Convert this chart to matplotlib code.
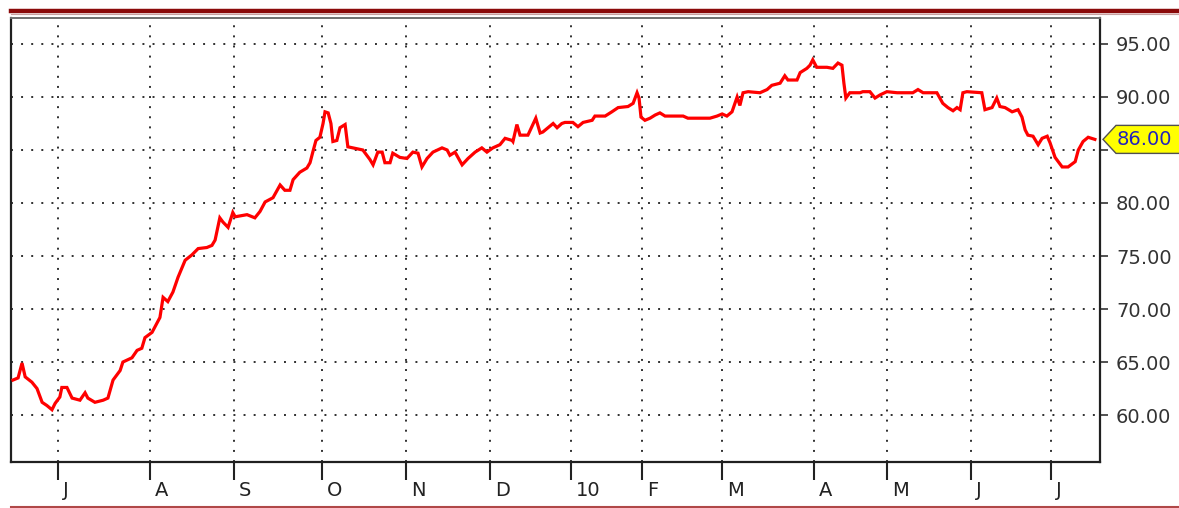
import matplotlib
matplotlib.use("Agg")
import matplotlib.pyplot as plt
from matplotlib.patches import Polygon
from matplotlib.lines import Line2D
import matplotlib.transforms as mtransforms

# trading-day index and price
day = [0.5, 1.8, 2.8, 3.6, 5.3, 6.6, 7.9, 9.1, 10.4, 11.2, 12.4, 12.9, 14.2, 15.5, 17.5, 18.8, 19.5,
       21.3, 23.4, 24.6, 25.9, 27.7, 28.4, 30.7, 32.0, 33.2, 34.0, 35.8, 37.1, 37.8, 38.6, 39.8,
       41.1, 42.4, 44.2, 45.9, 47.5, 49.7, 51.0, 51.8, 53.0, 53.8, 55.1, 56.3, 56.9, 59.9, 61.9,
       63.2, 64.5, 66.5, 68.3, 69.5, 70.8, 71.6, 73.3, 75.1, 75.9, 76.6, 77.4, 78.4, 79.2, 79.7,
       80.5, 81.2, 81.7, 82.7, 83.5, 84.8, 85.5, 86.8, 89.3, 91.1, 91.9, 93.1, 94.2, 94.9, 96.2,
       96.9, 98.7, 100.5, 102.0, 103.3, 104.3, 105.6, 107.1, 109.4, 110.7, 111.4, 112.7, 114.5,
       116.0, 117.8, 119.5, 120.8, 122.3, 124.1, 125.4, 127.2, 127.4, 128.4, 129.2, 131.2, 132.2,
       133.2, 134.3, 135.0, 137.6, 138.6, 139.8, 140.6, 142.6, 143.9, 145.2, 147.5, 148.2, 150.8,
       152.5, 154.1, 156.6, 157.9, 158.9, 159.4, 159.9, 160.9, 162.2, 163.5, 164.7, 166.0, 170.6,
       171.8, 177.4, 179.2, 180.5, 181.7, 183.0, 184.3, 185.0, 185.8, 187.1, 190.1, 191.9, 193.1,
       195.2, 196.4, 197.2, 199.5, 200.3, 202.0, 202.8, 203.5, 204.5, 207.1, 208.6, 209.9, 210.9,
       211.4, 211.9, 212.9, 215.5, 216.2, 218.0, 219.3, 220.6, 222.3, 224.9, 228.9, 230.2, 231.5,
       235.0, 236.5, 237.8, 239.1, 240.1, 240.9, 241.6, 242.6, 246.4, 247.2, 249.0, 250.2, 251.0,
       252.3, 254.1, 255.6, 256.6, 257.4, 258.1, 259.4, 260.7, 261.7, 263.0, 263.7, 265.0, 266.8,
       268.3, 270.1, 270.9, 272.1, 273.4, 275.1]
price = [63.3, 63.5, 64.9, 63.6, 63.1, 62.5, 61.2, 60.9, 60.5, 61.1, 61.7, 62.6, 62.6, 61.6, 61.4, 62.1, 61.6,
         61.2, 61.4, 61.6, 63.3, 64.2, 65.0, 65.4, 66.1, 66.3, 67.3, 67.8, 68.7, 69.2, 71.1, 70.7,
         71.6, 73.0, 74.6, 75.1, 75.7, 75.8, 76.0, 76.5, 78.6, 78.2, 77.7, 79.1, 78.7, 78.9, 78.6,
         79.2, 80.1, 80.5, 81.7, 81.2, 81.2, 82.2, 82.9, 83.3, 83.8, 84.8, 85.9, 86.2, 87.5, 88.6,
         88.5, 87.5, 85.8, 85.9, 87.1, 87.4, 85.3, 85.2, 85.0, 84.1, 83.6, 84.8, 84.8, 83.8, 83.8,
         84.7, 84.3, 84.2, 84.8, 84.7, 83.4, 84.2, 84.8, 85.2, 85.0, 84.5, 84.8, 83.6,
         84.2, 84.8, 85.2, 84.8, 85.2, 85.5, 86.1, 85.9, 85.8, 87.4, 86.4, 86.4, 87.2,
         88.0, 86.6, 86.7, 87.5, 87.1, 87.5, 87.6, 87.6, 87.2, 87.6, 87.8, 88.2, 88.2,
         88.6, 89.0, 89.1, 89.4, 90.4, 89.9, 88.1, 87.8, 88.0, 88.3, 88.5, 88.2, 88.2,
         88.0, 88.0, 88.2, 88.4, 88.2, 88.6, 90.0, 89.2, 90.4, 90.5, 90.4, 90.7, 91.1,
         91.3, 92.0, 91.6, 91.6, 92.3, 92.7, 93.0, 93.5, 92.8, 92.8, 92.7, 93.2, 93.0,
         91.3, 89.9, 90.4, 90.4, 90.5, 90.5, 89.9, 90.2, 90.5, 90.4, 90.4, 90.7, 90.4,
         90.4, 89.4, 89.0, 88.7, 89.0, 88.8, 90.4, 90.5, 90.4, 88.8, 89.0, 89.9, 89.1,
         89.0, 88.6, 88.8, 88.1, 86.9, 86.4, 86.3, 85.5, 86.1, 86.3, 85.7, 84.3, 83.4,
         83.4, 83.9, 85.0, 85.8, 86.2, 86.0]

month_pos = [11.9, 35.3, 56.6, 78.9, 100.3, 121.6, 142.1, 160.2, 180.5, 203.8, 222.3, 243.7, 264.0]
month_labels = ["J", "A", "S", "O", "N", "D", "10", "F", "M", "A", "M", "J", "J"]
y_ticks = [60, 65, 70, 75, 80, 85, 90, 95]
y_labels = ["60.00", "65.00", "70.00", "75.00", "80.00", "", "90.00", "95.00"]
last_label = "86.00"

W, H = 1179, 508
fig = plt.figure(figsize=(W / 100, H / 100), dpi=100)
fig.patch.set_facecolor("white")
ax = fig.add_axes([11 / W, 1 - 462 / H, (1100 - 11) / W, (462 - 18) / H])

ax.plot(day, price, color="#ff0000", lw=2.3, solid_joinstyle="miter", zorder=3)
ax.set_xlim(0, 276.4)
ax.set_ylim(55.57, 97.45)

# grid
for xp in month_pos:
    ax.axvline(xp, color="#303030", lw=1.4, linestyle=(0, (1, 4.2)), zorder=1)
for yp in y_ticks:
    ax.axhline(yp, color="#303030", lw=1.4, linestyle=(0, (1, 4.2)), zorder=1)

# y axis on the right
ax.yaxis.tick_right()
ax.set_yticks(y_ticks)
ax.set_yticklabels(y_labels)
ax.tick_params(axis="y", which="both", length=6, width=1.2, color="#333333",
               pad=5.5, labelsize=14, labelcolor="#333333")

# x axis
ax.set_xticks(month_pos)
ax.set_xticklabels(month_labels)
ax.tick_params(axis="x", length=13, width=1.5, color="#222222", pad=0.5,
               labelsize=14, labelcolor="#222222")
shift = mtransforms.ScaledTranslation(5 / 100, 0, fig.dpi_scale_trans)
for lbl in ax.get_xticklabels():
    lbl.set_horizontalalignment("left")
    lbl.set_transform(lbl.get_transform() + shift)

for side in ["left", "bottom", "right"]:
    ax.spines[side].set_linewidth(1.6)
    ax.spines[side].set_color("#202020")
ax.spines["top"].set_linewidth(1.4)
ax.spines["top"].set_color("#707070")

# last-value marker
anchor = mtransforms.ScaledTranslation(1.0, price[-1], ax.get_yaxis_transform())
ptrans = fig.dpi_scale_trans + anchor
verts = [(0.03, 0.0), (0.16, -0.14), (0.82, -0.14), (0.82, 0.14), (0.16, 0.14)]
poly = Polygon(verts, closed=True, facecolor="#ffff00", edgecolor="#505050", lw=1.0,
               transform=ptrans, clip_on=False, zorder=5)
ax.add_artist(poly)
ax.text(0.17, 0.0, last_label, transform=ptrans, ha="left", va="center",
        fontsize=14, color="#2222bb", clip_on=False, zorder=6)

# decorative header / footer rules
fig.add_artist(Line2D([11 / W, 1.0], [1 - 10.5 / H, 1 - 10.5 / H], color="#8b0a0a", lw=3.2))
fig.add_artist(Line2D([11 / W, 1.0], [1 - 13.5 / H, 1 - 13.5 / H], color="#c8a0a0", lw=0.8))
fig.add_artist(Line2D([11 / W, 1.0], [1 - 506.5 / H, 1 - 506.5 / H], color="#b04848", lw=1.5))

fig.savefig("out.png", dpi=100, facecolor="white")
